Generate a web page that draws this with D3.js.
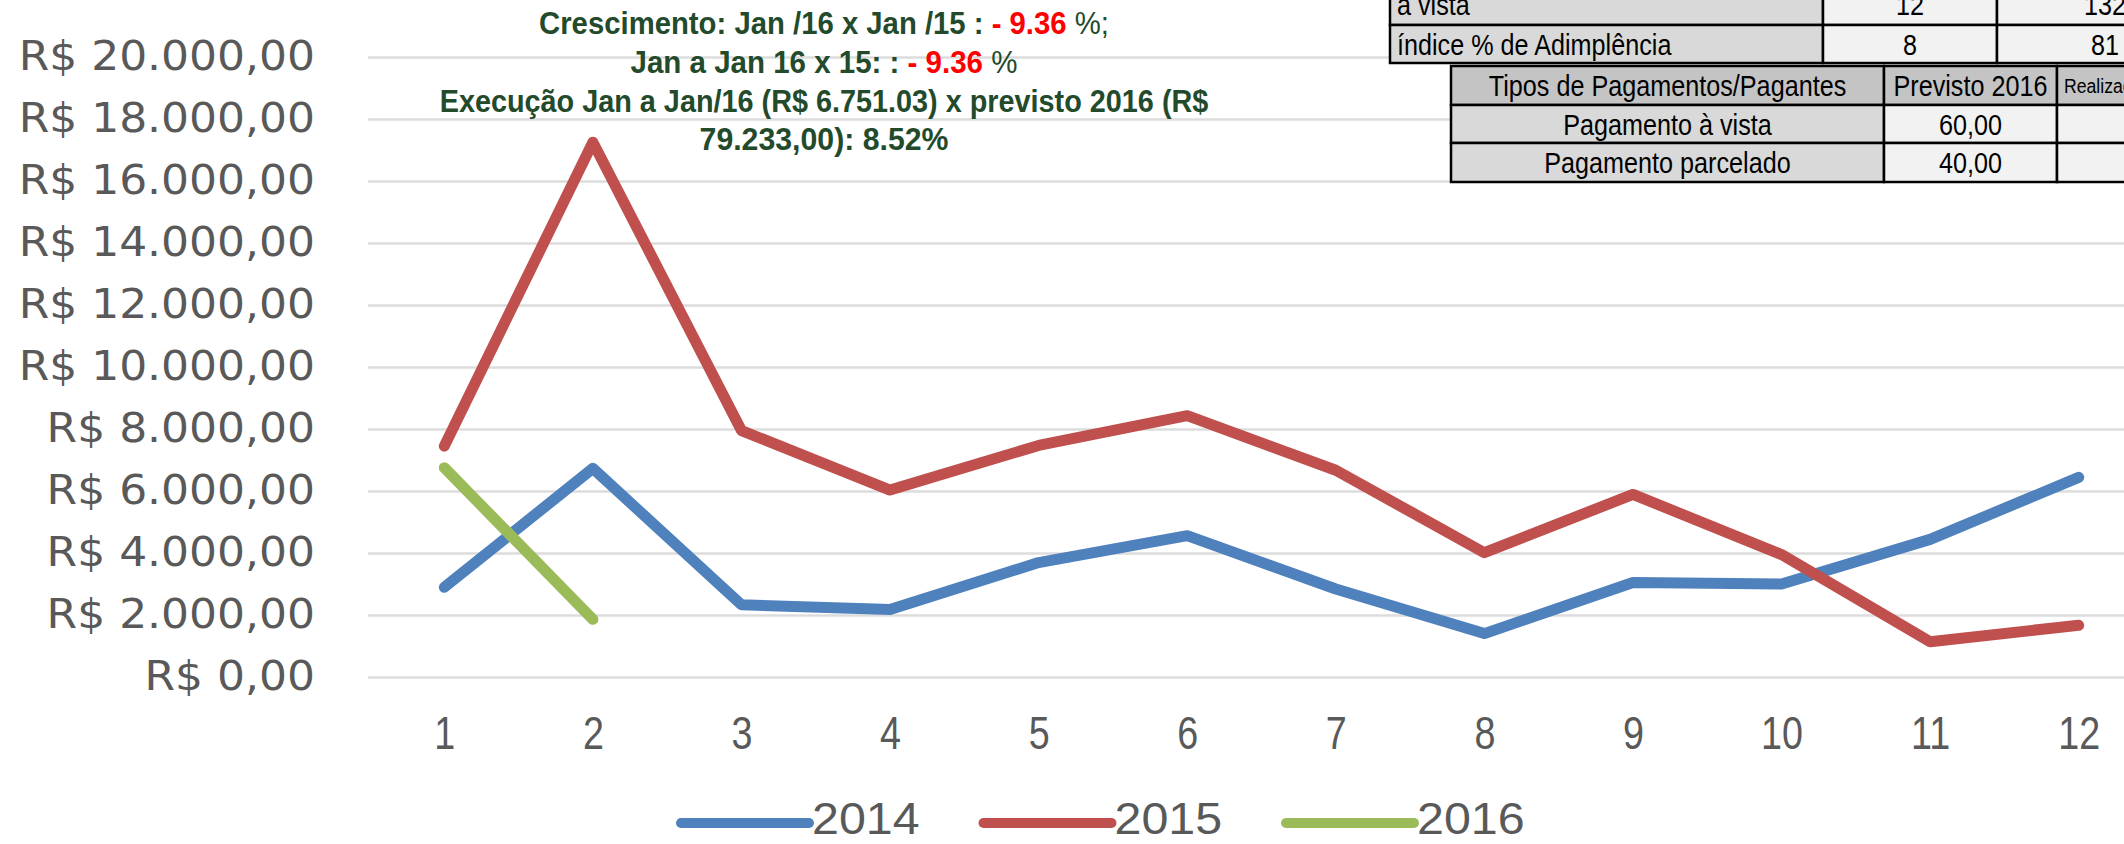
<!DOCTYPE html>
<html>
<head>
<meta charset="utf-8">
<script src="https://cdn.jsdelivr.net/npm/d3@7"></script>
<style>
  html, body { margin: 0; padding: 0; background: #fff; }
  svg { display: block; }
</style>
</head>
<body>
<div id="chart"></div>
<script>

// dados
var meses = [1, 2, 3, 4, 5, 6, 7, 8, 9, 10, 11, 12];
var anos = ["2014", "2015", "2016"];
var valores2014 = [2895, 6730, 2330, 2180, 3690, 4560, 2840, 1400, 3050, 3000, 4440, 6440];
var valores2015 = [7448, 17250, 7950, 6030, 7470, 8430, 6670, 4010, 5890, 3950, 1140, 1670];
var valores2016 = [6751.03, 1860];
var yTicks = [0, 2000, 4000, 6000, 8000, 10000, 12000, 14000, 16000, 18000, 20000];
var cores = ["#4f81bd", "#c0504d", "#9bbb59"];

var titulo = [
  [["Crescimento: Jan /16 x Jan /15 : ", "g"], ["- 9.36", "r"], [" %;", "n"]],
  [["Jan a Jan 16 x 15: : ", "g"], ["- 9.36", "r"], [" %", "n"]],
  [["Execução Jan a Jan/16 (R$ 6.751.03) x previsto 2016 (R$", "g"]],
  [["79.233,00): 8.52%", "g"]]
];

var tabela1 = [
  ["à vista", "12", "132"],
  ["índice % de Adimplência", "8", "81"]
];
var tabela2Cab = ["Tipos de Pagamentos/Pagantes", "Previsto 2016", "Realizado 2016"];
var tabela2 = [
  ["Pagamento à vista", "60,00", ""],
  ["Pagamento parcelado", "40,00", ""]
];

var W = 2124, H = 844;

var svg = d3.select("#chart").append("svg")
  .attr("width", W)
  .attr("height", H);

svg.append("rect").attr("width", W).attr("height", H).attr("fill", "#fff");

var x = d3.scalePoint()
  .domain(meses)
  .range([370, 2153])
  .padding(0.5);

var y = d3.scaleLinear()
  .domain([0, 20000])
  .range([677, 57]);

var ptBR = d3.formatLocale({decimal: ",", thousands: ".", grouping: [3], currency: ["R$ ", ""]});
var fmt = ptBR.format("$,.2f");

// linhas de grade
svg.append("g")
  .attr("class", "grid")
  .attr("transform", "translate(368,0)")
  .call(d3.axisLeft(y).tickValues(yTicks).tickSize(-(W - 368)).tickFormat(""))
  .call(function(g) { g.select(".domain").remove(); })
  .selectAll("line")
  .attr("stroke", "#dcdcdc")
  .attr("stroke-width", 2.5);

// eixo y
var yAxis = svg.append("g")
  .attr("transform", "translate(315,0) scale(1.1,1)")
  .call(d3.axisLeft(y).tickValues(yTicks).tickSize(0).tickPadding(0).tickFormat(fmt));
yAxis.select(".domain").remove();
yAxis.selectAll("text")
  .attr("fill", "#595959")
  .style("font-family", "DejaVu Sans, sans-serif")
  .style("font-size", "40px");

// eixo x
var xAxis = svg.append("g")
  .attr("transform", "translate(0,677)")
  .call(d3.axisBottom(x).tickSize(0).tickPadding(39));
xAxis.select(".domain").remove();
xAxis.selectAll("text")
  .attr("fill", "#595959")
  .attr("transform", "scale(0.82,1)")
  .style("font-family", "Liberation Sans, Arial, sans-serif")
  .style("font-size", "46px");

// séries
var series = [valores2014, valores2015, valores2016];
var line = d3.line()
  .x(function(d, i) { return x(meses[i]); })
  .y(function(d) { return y(d); });

svg.selectAll("path.serie")
  .data(series)
  .enter()
  .append("path")
  .attr("class", "serie")
  .attr("d", line)
  .attr("fill", "none")
  .attr("stroke", function(d, i) { return cores[i]; })
  .attr("stroke-width", 11)
  .attr("stroke-linejoin", "round")
  .attr("stroke-linecap", "round");

// legenda
var leg = svg.selectAll("g.leg")
  .data(anos)
  .enter()
  .append("g")
  .attr("class", "leg")
  .attr("transform", function(d, i) { return "translate(" + (681 + i * 302.5) + ",0)"; });
leg.append("line")
  .attr("x1", 0).attr("x2", 128)
  .attr("y1", 823).attr("y2", 823)
  .attr("stroke", function(d, i) { return cores[i]; })
  .attr("stroke-width", 10)
  .attr("stroke-linecap", "round");
leg.append("text")
  .attr("transform", "translate(131,834) scale(1.1,1)")
  .attr("fill", "#595959")
  .style("font-family", "Liberation Sans, Arial, sans-serif")
  .style("font-size", "44px")
  .text(function(d) { return d; });

// título
var larguras = [570, 387, 769, 249];
var baseY = [34, 73, 112, 150];
var t = svg.selectAll("text.titulo")
  .data(titulo)
  .enter()
  .append("text")
  .attr("class", "titulo")
  .attr("x", 0)
  .attr("y", 0)
  .attr("text-anchor", "middle")
  .style("font-family", "Liberation Sans, Arial, sans-serif")
  .style("font-size", "32px");
t.selectAll("tspan")
  .data(function(d) { return d; })
  .enter()
  .append("tspan")
  .attr("fill", function(d) { return d[1] == "r" ? "#ff0000" : "#234a2b"; })
  .attr("font-weight", function(d) { return d[1] == "n" ? "normal" : "bold"; })
  .text(function(d) { return d[0]; });
t.attr("transform", function(d, i) {
  var w = this.getComputedTextLength();
  return "translate(824," + baseY[i] + ") scale(" + (larguras[i] / w) + ",1)";
});

// tabelas
var fonteTab = "Liberation Sans, Arial, sans-serif";

function tabela(cols, rows, linhas, fills, anchors, sizes) {
  var g = svg.append("g");
  linhas.forEach(function(r, ri) {
    r.forEach(function(c, ci) {
      g.append("rect")
        .attr("x", cols[ci]).attr("y", rows[ri])
        .attr("width", cols[ci + 1] - cols[ci])
        .attr("height", rows[ri + 1] - rows[ri])
        .attr("fill", fills[ri][ci])
        .attr("stroke", "#000")
        .attr("stroke-width", 2.5);
      var tx = anchors[ci] == "middle" ? (cols[ci] + cols[ci + 1]) / 2 : cols[ci] + 7;
      g.append("text")
        .attr("transform", "translate(" + tx + "," + ((rows[ri] + rows[ri + 1]) / 2) + ") scale(0.84,1)")
        .attr("dy", "0.36em")
        .attr("text-anchor", anchors[ci] == "middle" ? "middle" : "start")
        .attr("fill", "#000")
        .style("font-family", fonteTab)
        .style("font-size", sizes[ri][ci] + "px")
        .text(c);
    });
  });
}

tabela([1390, 1823, 1997, 2213], [-16, 25, 63], tabela1,
  [["#d9d9d9", "#f2f2f2", "#f2f2f2"], ["#d9d9d9", "#f2f2f2", "#f2f2f2"]],
  ["start", "middle", "middle"],
  [[30, 30, 30], [30, 30, 30]]);

tabela([1451, 1884, 2057, 2260], [66, 105, 143, 182], [tabela2Cab].concat(tabela2),
  [["#c4c4c4", "#c4c4c4", "#c4c4c4"], ["#d9d9d9", "#f2f2f2", "#f2f2f2"], ["#d9d9d9", "#f2f2f2", "#f2f2f2"]],
  ["middle", "middle", "start"],
  [[30, 30, 21], [30, 30, 30], [30, 30, 30]]);

</script>
</body>
</html>
